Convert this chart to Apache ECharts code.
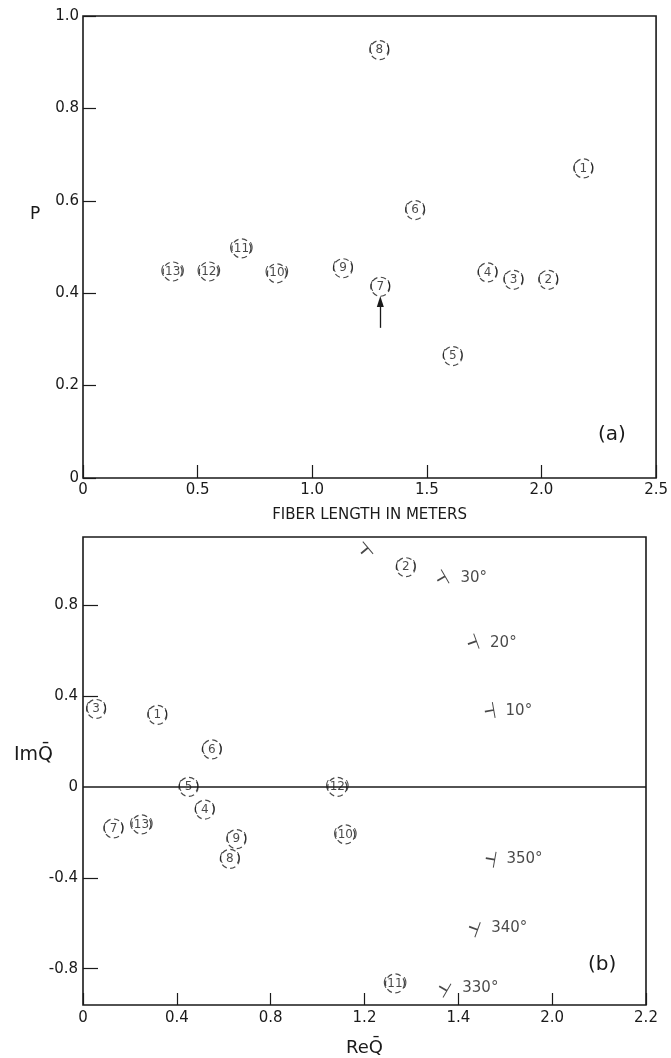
<!DOCTYPE html>
<html>
<head>
<meta charset="utf-8">
<script src="https://cdn.jsdelivr.net/npm/echarts@6/dist/echarts.min.js"></script>
<style>
  html, body { margin: 0; padding: 0; background: #fff; }
  #chart { width: 671px; height: 1058px; }
</style>
</head>
<body>
<div id="chart"></div>
<script>
// ---------- Panel (a): P versus fiber length ----------
const aIds    = [1, 2, 3, 4, 5, 6, 7, 8, 9, 10, 11, 12, 13];
const aLength = [2.183, 2.030, 1.878, 1.765, 1.613, 1.449, 1.297, 1.293, 1.134, 0.846, 0.691, 0.549, 0.391];
const aP      = [0.670, 0.429, 0.429, 0.445, 0.264, 0.580, 0.414, 0.926, 0.454, 0.443, 0.497, 0.447, 0.447];
const aArrowFrom = [1.297, 0.325];
const aArrowTo   = [1.297, 0.382];

// ---------- Panel (b): Im Q versus Re Q ----------
const bIds = [1, 2, 3, 4, 5, 6, 7, 8, 9, 10, 11, 12, 13];
const bRe  = [0.317, 1.376, 0.056, 0.519, 0.450, 0.549, 0.130, 0.626, 0.654, 1.118, 1.330, 1.084, 0.249];
const bIm  = [0.317, 0.967, 0.343, -0.100, 0.000, 0.165, -0.183, -0.317, -0.230, -0.209, -0.865, 0.000, -0.165];

// phase-angle markers
const angDeg    = [40, 30, 20, 10, 350, 340, 330];
const angLabels = ['', '30°', '20°', '10°', '350°', '340°', '330°'];
const angRe     = [1.200, 1.527, 1.659, 1.732, 1.736, 1.664, 1.535];
const angIm     = [1.040, 0.917, 0.635, 0.335, -0.317, -0.622, -0.887];

// tick labels
const aXTicks = ['0', '0.5', '1.0', '1.5', '2.0', '2.5'];
const aYTicks = ['0', '0.2', '0.4', '0.6', '0.8', '1.0'];
const bXTicks = ['0', '0.4', '0.8', '1.2', '1.4', '2.0', '2.2'];
const bYTickValues = [-0.8, -0.4, 0, 0.4, 0.8];
const bYTicks = ['-0.8', '-0.4', '0', '0.4', '0.8'];

const INK = '#1a1a1a';
const FONT = 'DejaVu Sans';

const chart = echarts.init(document.getElementById('chart'), null, { renderer: 'canvas' });

function circled(ids, xs, ys) {
  return ids.map((id, i) => [xs[i], ys[i], id]);
}

const circleStyle = {
  symbol: 'circle',
  symbolSize: 19,
  itemStyle: { color: '#fff', borderColor: INK, borderWidth: 1.2, borderType: [5.5, 3.5] },
  label: {
    show: true, position: 'inside', color: INK, fontFamily: FONT, fontSize: 12,
    formatter: p => p.value[2] < 10 ? '(\u2009' + p.value[2] + '\u2009)' : '(' + p.value[2] + ')'
  }
};

const tickLabel = { color: INK, fontSize: 15, fontFamily: FONT };

const option = {
  animation: false,
  backgroundColor: '#fff',
  textStyle: { fontFamily: FONT, color: INK },
  grid: [
    { left: 83, top: 16, width: 576, height: 462, show: true, borderColor: INK, borderWidth: 1.6, backgroundColor: 'transparent' },
    { left: 83, top: 537, width: 563, height: 473, show: true, borderColor: INK, borderWidth: 1.6, backgroundColor: 'transparent' }
  ],
  xAxis: [
    {
      gridIndex: 0, type: 'value', min: 0, max: 2.5, interval: 0.5,
      axisLine: { show: false, onZero: false },
      axisTick: { inside: true, length: 13, lineStyle: { color: INK, width: 1.2 } },
      splitLine: { show: false },
      axisLabel: { ...tickLabel, margin: 5, formatter: v => aXTicks[Math.round(v / 0.5)] },
      name: 'FIBER LENGTH IN METERS', nameLocation: 'middle', nameGap: 30,
      nameTextStyle: { fontSize: 15, color: INK, fontFamily: FONT }
    },
    {
      gridIndex: 1, type: 'value', min: 0, max: 2.4, interval: 0.4,
      axisLine: { show: false, onZero: false },
      axisTick: { inside: true, length: 12, lineStyle: { color: INK, width: 1.2 } },
      splitLine: { show: false },
      axisLabel: { ...tickLabel, margin: 6, formatter: v => bXTicks[Math.round(v / 0.4)] },
      name: 'ReQ\u0304', nameLocation: 'middle', nameGap: 34,
      nameTextStyle: { fontSize: 18, color: INK, fontFamily: FONT }
    }
  ],
  yAxis: [
    {
      gridIndex: 0, type: 'value', min: 0, max: 1, interval: 0.2,
      axisLine: { show: false, onZero: false },
      axisTick: { inside: true, length: 13, lineStyle: { color: INK, width: 1.2 } },
      splitLine: { show: false },
      axisLabel: { ...tickLabel, margin: 4, formatter: v => aYTicks[Math.round(v / 0.2)] }
    },
    {
      gridIndex: 1, type: 'value', min: -0.96, max: 1.1,
      axisLine: { show: false, onZero: false },
      axisTick: { inside: true, length: 15, customValues: [-0.8, -0.4, 0.4, 0.8], lineStyle: { color: INK, width: 1.2 } },
      splitLine: { show: false },
      axisLabel: {
        ...tickLabel, margin: 5, customValues: bYTickValues,
        formatter: v => { const k = bYTickValues.findIndex(t => Math.abs(t - v) < 1e-6); return k >= 0 ? bYTicks[k] : ''; }
      }
    }
  ],
  graphic: [
    { type: 'text', left: 30, top: 206, style: { text: 'P', font: '17px "DejaVu Sans"', fill: INK } },
    { type: 'text', left: 14, top: 746, style: { text: 'ImQ\u0304', font: '19px "DejaVu Sans"', fill: INK } },
    { type: 'text', left: 598, top: 425, style: { text: '(a)', font: '20px "DejaVu Sans"', fill: INK } },
    { type: 'text', left: 588, top: 955, style: { text: '(b)', font: '20px "DejaVu Sans"', fill: INK } }
  ],
  series: [
    {
      type: 'scatter', xAxisIndex: 0, yAxisIndex: 0, z: 3,
      data: circled(aIds, aLength, aP),
      ...circleStyle,
      markLine: {
        silent: true, symbol: ['none', 'triangle'], symbolSize: [7, 11],
        lineStyle: { color: INK, width: 1.3, type: 'solid' }, label: { show: false },
        data: [[{ coord: aArrowFrom }, { coord: aArrowTo }]]
      }
    },
    {
      type: 'scatter', xAxisIndex: 1, yAxisIndex: 1, z: 1, symbolSize: 0, data: [],
      markLine: {
        silent: true, symbol: ['none', 'none'],
        lineStyle: { color: INK, width: 1.6, type: 'solid' }, label: { show: false },
        data: [{ yAxis: 0 }]
      }
    },
    {
      type: 'scatter', xAxisIndex: 1, yAxisIndex: 1, z: 3,
      data: circled(bIds, bRe, bIm),
      ...circleStyle
    },
    {
      type: 'scatter', xAxisIndex: 1, yAxisIndex: 1, z: 3,
      symbol: 'path://M10,0L10,20M10,10L0,10',
      symbolSize: [9, 16],
      itemStyle: { color: 'none', borderColor: INK, borderWidth: 1.3 },
      data: angDeg.map((a, i) => ({ value: [angRe[i], angIm[i]], symbolRotate: a, name: angLabels[i] })),
      label: { show: true, position: 'right', distance: 8, color: INK, fontSize: 15, fontFamily: FONT, formatter: p => p.name }
    }
  ]
};

chart.setOption(option);
</script>
</body>
</html>
